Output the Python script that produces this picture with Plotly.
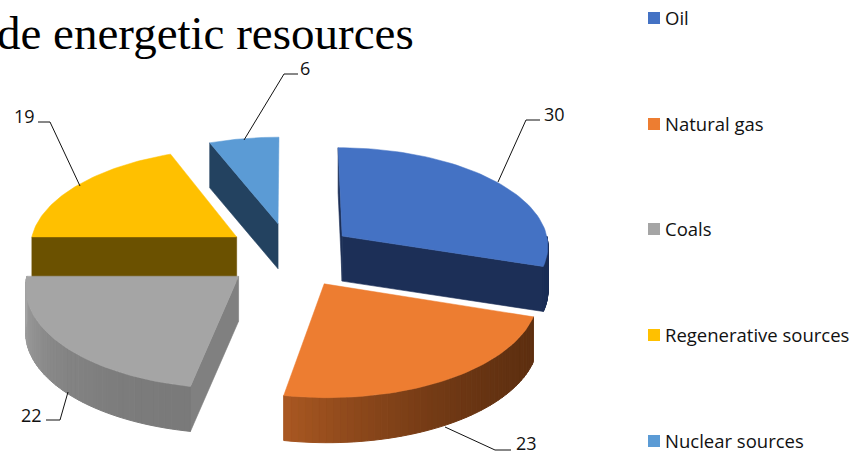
import math
import plotly.graph_objects as go

categories = ["Oil", "Natural gas", "Coals", "Regenerative sources", "Nuclear sources"]
values = [30, 23, 22, 19, 6]
top_colors = ["#4472c4", "#ed7d31", "#a5a5a5", "#ffc000", "#5b9bd5"]
title_text = "de energetic resources"

W, H = 851, 452
CX, CY = 290, 255
RX, RY = 208, 99
PERSP = 0.085
DEPTH = 45
EXPLODE_X = 0.315
EXPLODE_Y = 0.33
STEPS = 60


def project(x, y, z=0.0):
    s = 1.0 / (1.0 - PERSP * y)
    return CX + RX * x * s, CY + RY * y * s + DEPTH * z


def mix(c1, c2, t):
    return tuple(c1[i] + (c2[i] - c1[i]) * t for i in range(3))


def css(c):
    return "rgb(%d,%d,%d)" % tuple(round(v) for v in c)


fig = go.Figure()


def poly(pts, color, line=0.6):
    xs = [p[0] for p in pts] + [pts[0][0]]
    ys = [p[1] for p in pts] + [pts[0][1]]
    fig.add_trace(go.Scatter(
        x=xs, y=ys, mode="lines", fill="toself", fillcolor=color,
        line=dict(color=color, width=line), hoverinfo="skip", showlegend=False))


total = sum(values)
wedges = []
a = 0.0
for i, v in enumerate(values):
    a2 = a + v / total * 2 * math.pi
    wedges.append((i, a, a2))
    a = a2

# wall shades: radial wall colour, arc-wall gradient from / to
walls = {
    0: ((28, 47, 87), (28, 47, 87), (28, 47, 87)),
    1: ((94, 47, 16), (94, 47, 16), (170, 88, 34)),
    2: ((128, 128, 128), (122, 122, 122), (165, 165, 165)),
    3: ((107, 81, 0), (107, 81, 0), (107, 81, 0)),
    4: ((35, 66, 96), (35, 66, 96), (35, 66, 96)),
}

for i, a1, a2 in [wedges[k] for k in (4, 3, 0, 2, 1)]:
    mid = (a1 + a2) / 2
    ox, oy = EXPLODE_X * math.sin(mid), -EXPLODE_Y * math.cos(mid)

    def pt(angle, r=1.0, z=0.0):
        return project(ox + r * math.sin(angle), oy - r * math.cos(angle), z)

    radial, g_right, g_left = walls[i]
    color_radial = css(radial)
    # radial walls that face the viewer
    if i == 0:
        poly([pt(a2, 0), pt(a2), pt(a2, 1, 1), pt(a2, 0, 1)], color_radial)
        poly([pt(a1, 0), pt(a1), pt(a1, 1, 1), pt(a1, 0, 1)], color_radial)
    if i == 2:
        poly([pt(a1, 0), pt(a1), pt(a1, 1, 1), pt(a1, 0, 1)], color_radial)
    if i == 3:
        poly([pt(a1, 0), pt(a1), pt(a1, 1, 1), pt(a1, 0, 1)], color_radial)
    if i == 4:
        poly([pt(a1, 0), pt(a1), pt(a1, 1, 1), pt(a1, 0, 1)], color_radial)
    # outer wall, built as strips
    lo, hi = a1, a2
    if i == 0:
        lo = math.pi / 2
    if i in (0, 1, 2):
        n = 48
        for k in range(n):
            b1 = lo + (hi - lo) * k / n
            b2 = lo + (hi - lo) * (k + 1) / n
            c = mix(g_right, g_left, ((k + 0.5) / n) ** 2)
            poly([pt(b1), pt(b2), pt(b2, 1, 1), pt(b1, 1, 1)], css(c), 1)
    # top face
    arc = [pt(a1 + (a2 - a1) * k / STEPS) for k in range(STEPS + 1)]
    poly([pt(a1, 0)] + arc, top_colors[i], 0.5)

# leader lines and data labels
label_cfg = [
    (0, [(498, 182), (526, 120), (540, 120)], (554, 114)),
    (1, [(445, 427), (495, 450), (511, 450)], (526, 443)),
    (2, [(68, 392), (60, 420), (46, 420)], (31, 415)),
    (3, [(80, 186), (50, 122), (38, 122)], (24, 116)),
    (4, [(244, 140), (284, 74), (298, 74)], (305, 68)),
]
for i, path, pos in label_cfg:
    fig.add_trace(go.Scatter(
        x=[p[0] for p in path], y=[p[1] for p in path], mode="lines",
        line=dict(color="#111111", width=1), hoverinfo="skip", showlegend=False))
    fig.add_annotation(x=pos[0], y=pos[1], text=str(values[i]), showarrow=False,
                       font=dict(family="Open Sans", size=18, color="#111111"),
                       xanchor="center", yanchor="middle")

# legend
legend_y = [18, 124, 229, 335, 441]
fig.add_trace(go.Scatter(
    x=[654] * 5, y=legend_y, mode="markers",
    marker=dict(symbol="square", size=12, color=top_colors),
    hoverinfo="skip", showlegend=False))
for name, y in zip(categories, legend_y):
    fig.add_annotation(x=663, y=y - 1, text=name, showarrow=False, xanchor="left", yanchor="middle",
                       font=dict(family="Open Sans", size=18.5, color="#111111"))

fig.add_annotation(x=416, y=33, text=title_text, showarrow=False, xanchor="right", yanchor="middle",
                   font=dict(family="Liberation Serif", size=47, color="black"))

fig.update_layout(
    width=W, height=H, margin=dict(l=0, r=0, t=0, b=0),
    paper_bgcolor="white", plot_bgcolor="white", showlegend=False,
    xaxis=dict(range=[0, W], visible=False, fixedrange=True),
    yaxis=dict(range=[H, 0], visible=False, fixedrange=True),
)
fig.write_html("out.html", config=dict(displayModeBar=False),
               post_script="document.body.style.margin='0';document.body.style.overflow='hidden';")
